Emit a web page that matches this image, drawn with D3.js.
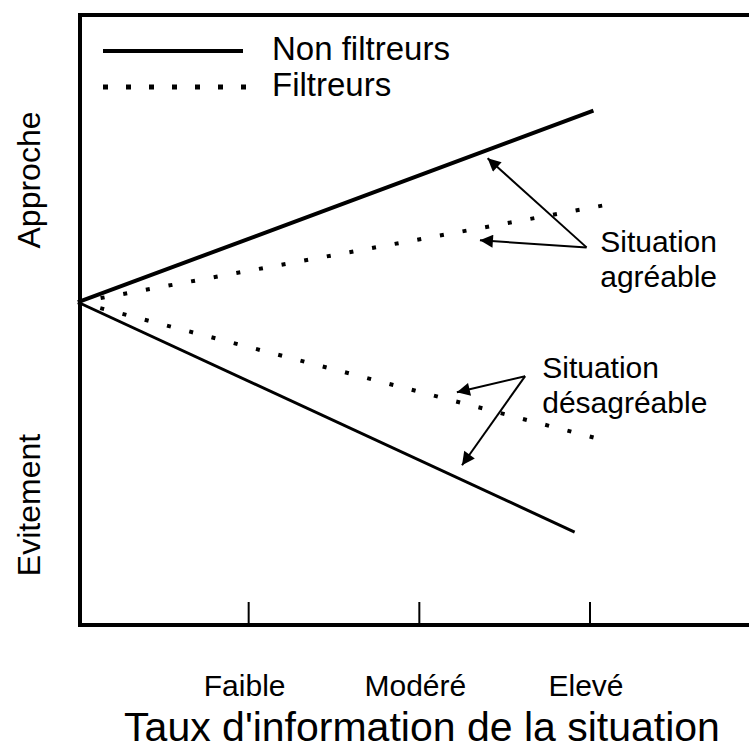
<!DOCTYPE html>
<html>
<head>
<meta charset="utf-8">
<script src="https://cdn.jsdelivr.net/npm/d3@7"></script>
<style>
  html, body { margin: 0; padding: 0; background: #fff; }
  svg { display: block; font-family: "Liberation Sans", Arial, sans-serif; }
</style>
</head>
<body>
<svg id="chart" width="749" height="749"></svg>
<script>
/*********************/
/*** DATA          ***/
/*********************/

// x categories (information rate of the situation)
let levels    = ["Faible", "Modéré", "Elevé"],
    levelPos  = [1, 2, 3];

// series: [x, y] pairs, y > 0 = approche, y < 0 = évitement
let nonFiltAgreable    = [[0, 0], [3.02, 0.594]],
    nonFiltDesagreable = [[0, 0], [2.91, -0.712]],
    filtAgreable       = [[0, 0], [3.15, 0.307]],
    filtDesagreable    = [[0, 0], [3.10, -0.430]];

let yLabels = ["Approche", "Evitement"];

// annotations: text lines + arrows (from -> to) in data units
let annotations = [
    {lines: ["Situation", "agréable"], at: [3.06, 0.155], from: [2.98, 0.17],
     to: [[2.40, 0.446], [2.355, 0.192]]},
    {lines: ["Situation", "désagréable"], at: [2.72, -0.235], from: [2.62, -0.229],
     to: [[2.22, -0.279], [2.25, -0.505]]}
];

/*********************/
/*** INIT VARIABLE ***/
/*********************/

let W = 749, H = 749;
let margin = {top: 15, left: 78, bottom: 625};

let svg = d3.select("#chart");

let x = d3.scaleLinear().domain([0, 3]).range([margin.left, 590]),
    y = d3.scaleLinear().domain([-1, 0.89]).range([margin.bottom, margin.top]);

let line = d3.line().x(d => x(d[0])).y(d => y(d[1]));

// arrow head
svg.append("defs").append("marker")
    .attr("id", "head")
    .attr("viewBox", "0 -5 10 10")
    .attr("refX", 10).attr("refY", 0)
    .attr("markerUnits", "userSpaceOnUse")
    .attr("markerWidth", 16).attr("markerHeight", 13)
    .attr("orient", "auto")
  .append("path")
    .attr("d", "M0,-5L10,0L0,5Z")
    .attr("fill", "#000");

/*****************/
/*** FRAME     ***/
/*****************/

svg.append("path")
    .attr("d", `M${W},${margin.top}H${margin.left + 2}V${margin.bottom}H${W}`)
    .attr("fill", "none")
    .attr("stroke", "#000")
    .attr("stroke-width", 4);

// ticks
svg.selectAll(".tick")
    .data(levelPos)
    .enter().append("line")
    .attr("class", "tick")
    .attr("x1", d => x(d)).attr("x2", d => x(d))
    .attr("y1", margin.bottom - 23).attr("y2", margin.bottom)
    .attr("stroke", "#000")
    .attr("stroke-width", 2);

svg.selectAll(".level")
    .data(levels)
    .enter().append("text")
    .attr("class", "level")
    .attr("x", (d, i) => x(levelPos[i]) - 4)
    .attr("y", 696)
    .attr("text-anchor", "middle")
    .attr("font-size", 30)
    .text(d => d);

svg.append("text")
    .attr("x", 422).attr("y", 741)
    .attr("text-anchor", "middle")
    .attr("font-size", 41)
    .text("Taux d'information de la situation");

// y labels
svg.selectAll(".ylab")
    .data(yLabels)
    .enter().append("text")
    .attr("class", "ylab")
    .attr("transform", (d, i) => `translate(${40},${i == 0 ? 180 : 505}) rotate(-90)`)
    .attr("text-anchor", "middle")
    .attr("font-size", 32)
    .text(d => d);

/*****************/
/*** SERIES    ***/
/*****************/

svg.append("path").datum(nonFiltAgreable)
    .attr("d", line).attr("fill", "none")
    .attr("stroke", "#000").attr("stroke-width", 4);

svg.append("path").datum(nonFiltDesagreable)
    .attr("d", line).attr("fill", "none")
    .attr("stroke", "#000").attr("stroke-width", 3);

[filtAgreable, filtDesagreable].forEach(function(s) {
    svg.append("path").datum(s)
        .attr("d", line).attr("fill", "none")
        .attr("stroke", "#000").attr("stroke-width", 4)
        .attr("stroke-dasharray", "4 19");
});

/*****************/
/*** LEGEND    ***/
/*****************/

svg.append("line")
    .attr("x1", 103).attr("x2", 243).attr("y1", 51).attr("y2", 51)
    .attr("stroke", "#000").attr("stroke-width", 4);
svg.append("line")
    .attr("x1", 103).attr("x2", 250).attr("y1", 87).attr("y2", 87)
    .attr("stroke", "#000").attr("stroke-width", 5)
    .attr("stroke-dasharray", "5 18");

svg.append("text").attr("x", 272).attr("y", 60)
    .attr("font-size", 33).text("Non filtreurs");
svg.append("text").attr("x", 272).attr("y", 96)
    .attr("font-size", 33).text("Filtreurs");

/*********************/
/*** ANNOTATIONS   ***/
/*********************/

annotations.forEach(function(a) {
    a.to.forEach(function(t) {
        svg.append("line")
            .attr("x1", x(a.from[0])).attr("y1", y(a.from[1]))
            .attr("x2", x(t[0])).attr("y2", y(t[1]))
            .attr("stroke", "#000").attr("stroke-width", 2)
            .attr("marker-end", "url(#head)");
    });
    // one text per line so the boxes do not collide
    a.lines.forEach(function(l, i) {
        svg.append("text")
            .attr("x", x(a.at[0]))
            .attr("y", y(a.at[1]) + i * 35)
            .attr("font-size", 30)
            .text(l);
    });
});
</script>
</body>
</html>
